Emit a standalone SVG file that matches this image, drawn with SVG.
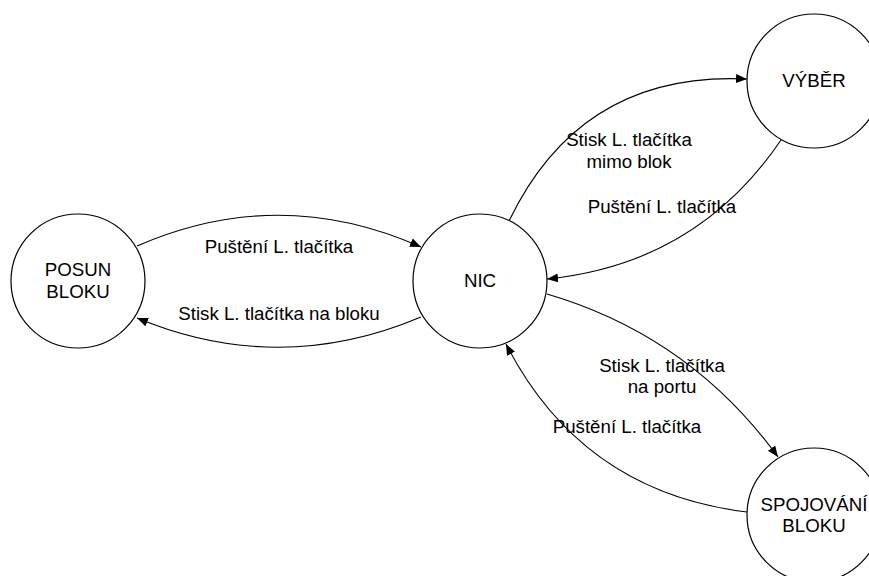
<svg xmlns="http://www.w3.org/2000/svg" width="869" height="576" viewBox="0 0 869 576">
  <style>
    .state { fill: #ffffff; stroke: #000000; stroke-width: 1.2; }
    .name { font-family: "Liberation Sans", Arial, sans-serif; font-size: 18.7px; fill: #000000; text-anchor: middle; }
    .edge { fill: none; stroke: #000000; stroke-width: 1.1; marker-end: url(#arrow); }
    .label { font-family: "Liberation Sans", Arial, sans-serif; font-size: 18.7px; fill: #000000; text-anchor: middle; }
  </style>
  <defs>
    <marker id="arrow" markerUnits="userSpaceOnUse" markerWidth="12" markerHeight="10" refX="11" refY="4.5" orient="auto">
      <path d="M0,0 L11,4.5 L0,9 z" fill="#000000"/>
    </marker>
  </defs>
  <rect width="869" height="576" fill="#ffffff"/>

  <!-- transitions -->
  <g id="connectors">
    <path class="edge" d="M137,246 Q279,184 421,247"/>
    <path class="edge" d="M421,317 Q279,377 137,318"/>
    <path class="edge" d="M509,221 Q581,71 747,79"/>
    <path class="edge" d="M781,140 Q697,264 547,279"/>
    <path class="edge" d="M547,294 Q690,336 778,457"/>
    <path class="edge" d="M747,512 Q582,492 506,344"/>
  </g>

  <!-- transition labels -->
  <g id="labels">
    <text class="label" x="279" y="253">Puštění L. tlačítka</text>
    <text class="label" x="279" y="320">Stisk L. tlačítka na bloku</text>
    <text class="label" x="629" y="146">Stisk L. tlačítka</text>
    <text class="label" x="629" y="168">mimo blok</text>
    <text class="label" x="662" y="213">Puštění L. tlačítka</text>
    <text class="label" x="662" y="372">Stisk L. tlačítka</text>
    <text class="label" x="662" y="393">na portu</text>
    <text class="label" x="627" y="433">Puštění L. tlačítka</text>
  </g>

  <!-- states -->
  <g id="posun-bloku">
    <circle class="state" cx="78" cy="281" r="67"/>
    <text class="name" x="78" y="276">POSUN</text>
    <text class="name" x="78" y="298">BLOKU</text>
  </g>
  <g id="nic">
    <circle class="state" cx="480" cy="281" r="67"/>
    <text class="name" x="480" y="287">NIC</text>
  </g>
  <g id="vyber">
    <circle class="state" cx="814" cy="81" r="67"/>
    <text class="name" x="814" y="87">VÝBĚR</text>
  </g>
  <g id="spojovani-bloku">
    <circle class="state" cx="814" cy="515" r="67"/>
    <text class="name" x="814" y="511">SPOJOVÁNÍ</text>
    <text class="name" x="814" y="532">BLOKU</text>
  </g>
</svg>
